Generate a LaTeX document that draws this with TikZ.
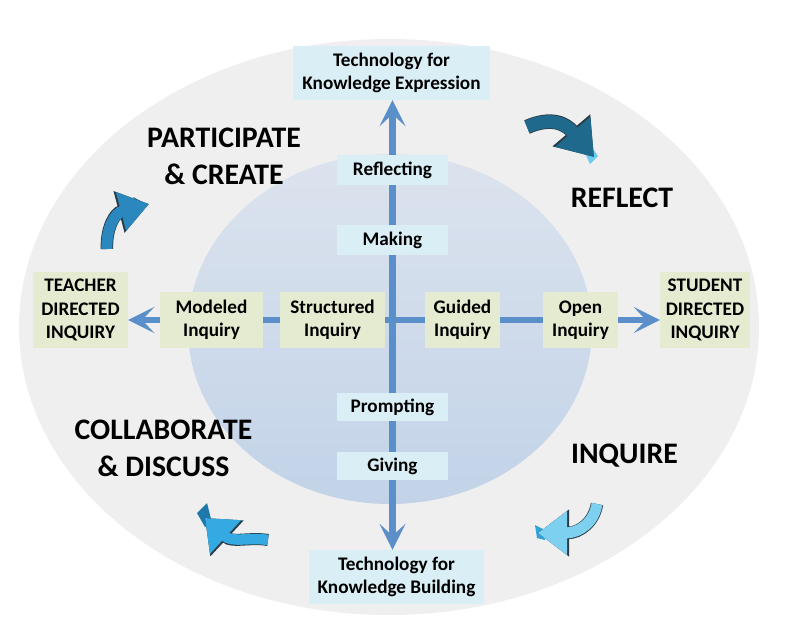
\documentclass[tikz,border=0pt]{standalone}
\usepackage{fontspec}
\setmainfont{Carlito}
\usetikzlibrary{arrows.meta}
\pgfdeclarelayer{bg}
\pgfdeclarelayer{arr}
\pgfsetlayers{bg,arr,main}
\definecolor{outergray}{HTML}{EFEFEF}
\definecolor{innertop}{HTML}{DCE3EE}
\definecolor{innerbot}{HTML}{C2D3E8}
\definecolor{boxblue}{HTML}{DAEEF5}
\definecolor{boxgreen}{HTML}{E4EBD1}
\definecolor{arrowblue}{HTML}{5B8FC9}
\definecolor{caone}{HTML}{1F6A8C}
\definecolor{catwo}{HTML}{2A88BE}
\definecolor{cathree}{HTML}{35A9E1}
\definecolor{cafour}{HTML}{7DD0EF}
\definecolor{caoutline}{HTML}{2B3A44}
\definecolor{shadeone}{HTML}{6CCBF0}
\definecolor{shadetwo}{HTML}{1B5C7C}
\definecolor{shadethree}{HTML}{1E78AA}
\definecolor{shadefour}{HTML}{2EA2D9}
\tikzset{
  bx/.style={rectangle, inner sep=0pt, align=center, font=\bfseries\fontsize{19.2}{23.5}\selectfont},
  bluebox/.style={bx, fill=boxblue},
  greenbox/.style={bx, fill=boxgreen},
  biglabel/.style={inner sep=0pt, align=center, font=\bfseries\fontsize{29.8}{36.5}\selectfont},
  mainarrow/.style={line width=6.5pt, draw=arrowblue, arrows={Stealth[length=26pt,width=26pt,inset=12pt]-Stealth[length=26pt,width=26pt,inset=12pt]}},
  caout/.style={line width=#1, draw=caoutline},
  cabody/.style={line width=#1},
}
\begin{document}
\begin{tikzpicture}[x=1pt,y=-1pt]
\useasboundingbox (0,0) rectangle (797,626);
% background ellipses
\begin{pgfonlayer}{bg}
\fill[outergray] (389,327) ellipse [x radius=370pt, y radius=288pt];
\shade[top color=innertop, bottom color=innerbot] (390,329) ellipse [x radius=202pt, y radius=175pt];
\end{pgfonlayer}

% boxes
\node[bluebox, minimum width=197pt, minimum height=54pt] (techexp) at (391.5,73) {Technology for\\Knowledge Expression};
\node[bluebox, minimum width=111pt, minimum height=30pt] (reflecting) at (392.5,170) {Reflecting};
\node[bluebox, minimum width=111pt, minimum height=30pt] (making) at (392.5,240) {Making};
\node[bluebox, minimum width=111pt, minimum height=28pt] (prompting) at (392.5,407) {Prompting};
\node[bluebox, minimum width=111pt, minimum height=28pt] (giving) at (392.5,466) {Giving};
\node[bluebox, minimum width=175pt, minimum height=54pt] (techbuild) at (396.5,577) {Technology for\\Knowledge Building};
\node[greenbox, minimum width=95pt, minimum height=76pt] (teacher) at (80.5,310) {TEACHER\\DIRECTED\\INQUIRY};
\node[greenbox, minimum width=103pt, minimum height=56pt] (modeled) at (211.5,320) {Modeled\\Inquiry};
\node[greenbox, minimum width=105pt, minimum height=56pt] (structured) at (332.5,320) {Structured\\Inquiry};
\node[greenbox, minimum width=75pt, minimum height=56pt] (guided) at (462.5,320) {Guided\\Inquiry};
\node[greenbox, minimum width=75pt, minimum height=56pt] (open) at (580.5,320) {Open\\Inquiry};
\node[greenbox, minimum width=90pt, minimum height=76pt] (student) at (705,310) {STUDENT\\DIRECTED\\INQUIRY};

% main arrows (behind boxes)
\begin{pgfonlayer}{arr}
\draw[mainarrow] (techbuild.north -| reflecting.center) -- (techexp.south -| reflecting.center);
\draw[mainarrow] (teacher.east |- modeled.center) -- (student.west |- modeled.center);
\end{pgfonlayer}

% curved block arrows
\coordinate (aone) at (527,127);
\coordinate (aonetip) at (594,157);
\fill[shadeone] (585,153) -- (591,146) -- (598,156) -- (590,164) -- cycle;
\draw[caout=14.5pt, -{Triangle[length=35pt,width=47pt]}] (aone) .. controls (552,116) and (566,124) .. (aonetip);
\draw[cabody=13pt, caone, -{Triangle[length=33pt,width=44pt]}] (aone) .. controls (552,116) and (566,124) .. (aonetip);

\coordinate (atwo) at (107,249);
\coordinate (atwotip) at (149,204);
\fill[shadetwo] (133,197) -- (148,205) -- (142,209) -- cycle;
\draw[caout=12.5pt, -{Triangle[length=31pt,width=41pt]}] (atwo) .. controls (106,228) and (115,213) .. (atwotip);
\draw[cabody=11pt, catwo, -{Triangle[length=29pt,width=38pt]}] (atwo) .. controls (106,228) and (115,213) .. (atwotip);

\coordinate (athree) at (268,540);
\coordinate (athreetip) at (205,518);
\fill[shadethree] (197,513) -- (207,503) -- (212,523) -- (205,527) -- cycle;
\draw[caout=12pt, -{Triangle[length=30pt,width=47pt]}] (athree) .. controls (250,537) and (232,543) .. (athreetip);
\draw[cabody=10.5pt, cathree, -{Triangle[length=28pt,width=44pt]}] (athree) .. controls (250,537) and (232,543) .. (athreetip);

\coordinate (afour) at (597,504);
\coordinate (afourtip) at (538,533);
\fill[shadefour] (535,525) -- (543,529) -- (545,540) -- (537,538) -- cycle;
\draw[caout=12.5pt, -{Triangle[length=31pt,width=45pt]}] (afour) .. controls (594,522) and (580,533) .. (afourtip);
\draw[cabody=11pt, cafour, -{Triangle[length=29pt,width=42pt]}] (afour) .. controls (594,522) and (580,533) .. (afourtip);

% big labels
\node[biglabel, anchor=north] (participate) at (224,128) {PARTICIPATE\\\& CREATE};
\node[biglabel, anchor=base] (reflect) at (622,207) {REFLECT};
\node[biglabel, anchor=north] (collaborate) at (163.5,420) {COLLABORATE\\\& DISCUSS};
\node[biglabel, anchor=base] (inquire) at (624.5,463) {INQUIRE};
\end{tikzpicture}
\end{document}
